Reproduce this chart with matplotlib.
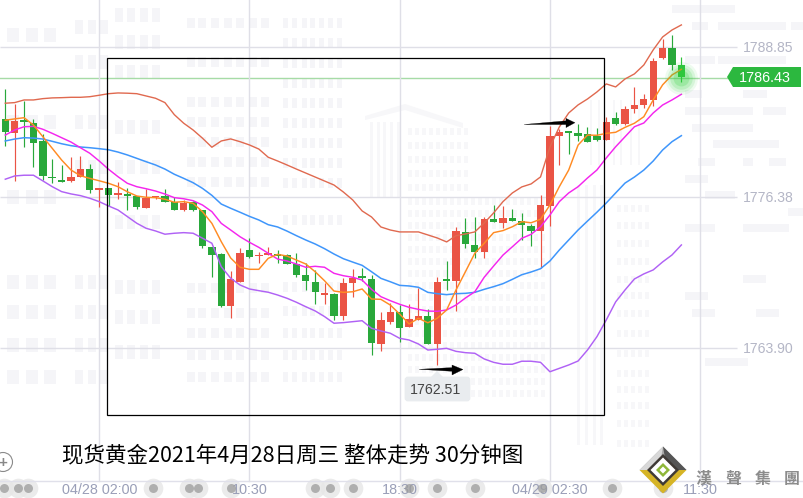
import matplotlib
matplotlib.use("Agg")
import matplotlib.pyplot as plt
from matplotlib.patches import Rectangle, Polygon, Circle, FancyBboxPatch

W, H = 804, 498
FONT = ['Liberation Sans', 'DejaVu Sans']
CJK = ['Noto Sans CJK SC', 'DejaVu Sans']

opens = [1782.88,1781.75,1782.80,1782.55,1781.08,1778.05,1777.82,1777.74,1778.07,1778.73,
         1777.03,1777.16,1776.58,1776.67,1776.50,1775.51,1776.38,1776.50,1776.01,1775.34,
         1776.01,1775.34,1772.29,1771.69,1767.38,1769.37,1772.02,1771.49,1771.61,1771.61,
         1771.61,1770.86,1769.95,1769.37,1768.33,1768.38,1766.55,1769.29,1769.79,1769.62,
         1764.23,1766.06,1766.89,1765.64,1766.22,1766.55,1764.23,1769.54,1769.45,1773.51,
         1772.44,1771.85,1774.59,1774.26,1774.67,1774.42,1774.01,1773.60,1775.67,1781.47,
         1781.83,1781.72,1781.64,1781.47,1781.14,1782.97,1782.47,1783.71,1784.05,1784.46,
         1787.94,1788.77,1787.36]
closes = [1781.83,1782.72,1782.66,1780.92,1778.18,1777.98,1777.68,1778.07,1778.73,1776.99,
          1777.10,1776.58,1776.75,1776.53,1775.59,1776.34,1776.45,1776.01,1775.34,1775.92,
          1775.34,1772.35,1771.61,1767.38,1769.62,1771.77,1771.44,1771.55,1771.77,1771.55,
          1770.86,1769.95,1769.45,1768.54,1768.40,1766.55,1769.29,1769.70,1769.73,1764.31,
          1766.22,1766.89,1765.56,1766.30,1766.55,1764.23,1769.37,1769.48,1773.60,1772.52,
          1771.85,1774.59,1774.34,1774.67,1774.42,1774.09,1773.60,1775.76,1781.47,1781.80,
          1781.76,1781.47,1780.97,1781.14,1782.63,1782.47,1783.71,1784.05,1784.54,1787.69,
          1788.77,1787.36,1786.36]
highs = [1785.37,1784.13,1784.40,1782.88,1781.64,1779.56,1779.07,1779.70,1779.81,1779.15,
         1777.10,1777.16,1777.66,1777.16,1776.50,1777.08,1776.50,1777.08,1776.39,1776.17,
         1776.09,1775.34,1772.29,1771.77,1770.28,1772.19,1773.01,1771.85,1772.27,1772.02,
         1771.69,1771.77,1770.94,1770.37,1769.29,1768.46,1769.70,1770.45,1770.53,1769.95,
         1766.89,1767.63,1767.47,1767.55,1768.87,1767.13,1769.78,1771.11,1773.93,1774.67,
         1774.75,1774.75,1775.76,1775.67,1775.42,1775.09,1774.18,1776.58,1782.30,1782.05,
         1781.83,1782.47,1782.22,1782.13,1783.05,1783.47,1783.96,1785.54,1784.96,1787.94,
         1789.51,1789.84,1788.02]
lows = [1780.67,1777.76,1780.58,1778.93,1777.82,1777.54,1777.68,1777.68,1778.05,1776.77,
        1775.61,1775.67,1776.25,1775.34,1775.42,1775.51,1776.28,1776.01,1775.34,1775.26,
        1775.26,1772.21,1769.81,1767.30,1766.42,1769.37,1771.36,1770.94,1771.61,1770.94,
        1770.86,1769.78,1768.71,1767.55,1767.55,1766.22,1766.22,1768.13,1769.45,1763.32,
        1763.65,1765.89,1764.39,1765.64,1766.22,1764.23,1762.51,1768.71,1766.96,1772.19,
        1771.36,1771.36,1774.34,1773.84,1774.42,1772.85,1772.35,1770.53,1774.01,1779.07,
        1779.98,1781.06,1780.97,1781.06,1781.14,1782.38,1782.38,1783.38,1783.80,1783.96,
        1787.86,1786.94,1785.95]

boll_upper = [1784.19,1784.24,1784.46,1784.46,1784.57,1784.63,1784.65,1784.68,1784.68,1784.73,
              1784.85,1784.98,1785.04,1785.02,1784.98,1784.79,1784.60,1784.24,1783.24,1782.53,
              1781.97,1781.29,1780.54,1781.06,1781.23,1781.00,1780.73,1780.39,1779.71,1779.40,
              1779.07,1778.73,1778.40,1778.07,1777.74,1777.41,1776.83,1776.17,1775.26,1774.76,
              1773.93,1773.68,1773.52,1773.52,1773.52,1773.27,1773.02,1772.69,1773.21,1773.35,
              1773.52,1774.26,1775.09,1776.03,1776.75,1777.25,1777.50,1778.08,1780.56,1782.22,
              1783.38,1784.05,1784.54,1785.12,1785.79,1785.54,1786.20,1786.62,1787.36,1788.61,
              1789.68,1790.26,1790.68]
ma_blue = [1781.06,1781.22,1781.33,1781.30,1781.22,1781.03,1780.83,1780.67,1780.56,1780.50,
           1780.42,1780.33,1780.14,1779.90,1779.62,1779.34,1779.07,1778.73,1778.30,1777.96,
           1777.60,1777.13,1776.55,1775.83,1775.48,1775.15,1774.81,1774.51,1774.12,1773.93,
           1773.59,1773.21,1772.85,1772.52,1772.13,1771.69,1771.30,1771.02,1770.75,1770.22,
           1769.67,1769.39,1769.09,1769.04,1768.93,1768.51,1768.40,1768.32,1768.40,1768.43,
           1768.51,1768.76,1768.98,1769.23,1769.59,1769.97,1770.20,1770.47,1771.11,1772.02,
           1772.85,1773.68,1774.42,1775.15,1775.92,1776.75,1777.57,1778.07,1778.65,1779.40,
           1780.31,1781.00,1781.50]
ma_magenta = [1781.55,1781.97,1782.24,1782.27,1782.03,1781.69,1781.33,1780.97,1780.50,1780.04,
              1779.40,1778.71,1778.10,1777.55,1777.27,1777.10,1776.91,1776.66,1776.36,1776.27,
              1776.11,1775.75,1775.20,1774.23,1773.68,1773.12,1772.66,1772.24,1771.75,1771.27,
              1771.11,1770.86,1770.59,1770.67,1770.59,1770.09,1769.89,1769.76,1769.53,1768.76,
              1768.15,1767.82,1767.52,1767.27,1767.10,1766.96,1766.94,1767.05,1767.46,1768.04,
              1768.56,1769.76,1770.69,1771.60,1772.29,1772.99,1773.32,1773.95,1774.92,1776.03,
              1776.75,1777.27,1777.99,1778.65,1779.65,1780.58,1781.41,1782.24,1782.55,1783.38,
              1784.04,1784.46,1784.93]
ma_orange = [1782.78,1782.89,1782.99,1782.38,1781.41,1780.45,1779.48,1778.65,1778.18,1777.96,
             1777.76,1777.55,1777.27,1776.85,1776.50,1776.39,1776.36,1776.23,1775.98,1776.03,
             1775.89,1775.20,1774.23,1772.71,1771.36,1770.59,1770.42,1770.42,1771.33,1771.66,
             1771.52,1771.19,1770.86,1770.22,1769.47,1768.62,1768.51,1768.56,1768.79,1767.96,
             1767.93,1767.46,1766.71,1765.89,1766.36,1765.99,1766.36,1767.05,1768.71,1770.22,
             1771.75,1772.58,1773.46,1773.63,1773.95,1774.37,1774.28,1774.57,1775.75,1777.27,
             1778.65,1780.72,1781.55,1781.53,1781.69,1781.78,1782.19,1782.53,1783.07,1784.46,
             1785.71,1786.53,1787.00]
boll_lower = [1777.89,1778.16,1778.22,1778.22,1777.75,1777.27,1776.86,1776.67,1776.53,1776.31,
              1776.03,1775.67,1775.34,1774.79,1774.24,1773.82,1773.60,1773.33,1773.41,1773.46,
              1773.41,1773.00,1772.58,1770.64,1769.68,1769.12,1768.79,1768.65,1768.52,1768.29,
              1768.02,1767.69,1767.32,1766.97,1766.50,1765.95,1766.00,1766.08,1766.16,1765.53,
              1765.31,1765.12,1764.70,1764.56,1764.23,1763.73,1763.79,1763.87,1763.62,1763.51,
              1763.46,1762.99,1762.71,1762.55,1762.55,1762.80,1762.80,1762.71,1761.93,1762.21,
              1762.49,1762.82,1763.73,1764.83,1766.22,1767.72,1768.71,1769.62,1770.04,1770.37,
              1771.03,1771.61,1772.44]

y_tick_values = [1788.85, 1776.38, 1763.90]
y_tick_labels = ['1788.85', '1776.38', '1763.90']
x_tick_index = [10, 26, 42, 58, 74]
x_tick_labels = ['04/28 02:00', '10:30', '18:30', '04/29 02:30', '11:30']
last_price = '1786.43'
low_label = '1762.51'
title = '现货黄金2021年4月28日周三 整体走势 30分钟图'
event_dots_px = [4, 18, 28, 153, 189, 198, 231, 315, 330, 353, 409, 437, 475, 542, 612, 663]

UP, DOWN = '#ea5445', '#29a83b'
X0, DX = 5.3, 9.39
PY, PV, PK = 47.0, 1788.85, 0.0829

fig = plt.figure(figsize=(W/100, H/100), dpi=100, facecolor='white')

def make_ax(z):
    a = fig.add_axes([0, 0, 1, 1], zorder=z)
    a.axis('off')
    a.patch.set_alpha(0)
    return a

bg = make_ax(0)
bg.set_xlim(0, W); bg.set_ylim(H, 0)
ax = make_ax(1)
ax.set_xlim(-X0/DX, (W-X0)/DX)
ax.set_ylim(PV-(H-PY)*PK, PV+PY*PK)
top = make_ax(2)
top.set_xlim(0, W); top.set_ylim(H, 0)

# ---- faint watermark -------------------------------------------------
WM = '#f5f5f8'
FAINT = '#f7f7f9'
def blocks(xs, ys, w, h, color=WM):
    for y in ys:
        for x in xs:
            bg.add_patch(Rectangle((x, y), w, h, fc=color, ec='none'))

blocks([7, 26, 44], [28, 115, 190, 275, 305, 338, 370], 12, 14)
blocks([75, 88, 100], [20, 55, 115, 160, 275, 305, 338, 370], 8, 14)
blocks([115, 127, 140, 152], [8, 35, 65, 120, 160, 215, 280, 310, 345], 8, 14)
blocks([187, 198, 211, 224, 236, 249, 261], [18, 57, 97, 117, 137, 157, 177, 283, 308, 328, 350, 372], 8, 10)
blocks([283, 292, 302, 310, 319, 328, 337], [18, 38, 58, 78, 98, 118, 138, 158, 178, 215, 282, 306, 328, 350, 372], 5, 10)
blocks([408 + 7*i for i in range(9)], [128, 142, 156, 170, 184], 4.5, 7, FAINT)
blocks([408 + 7*i for i in range(20)], [198 + 12*i for i in range(17)], 4.5, 7, FAINT)
blocks([617, 624, 631, 638, 645], [205, 222, 240, 258, 276, 292, 310, 330, 350, 370, 386, 402, 420, 440], 4.5, 7, FAINT)
hbars = [(672, 735, 5), (692, 708, 22), (718, 786, 22), (791, 804, 22), (685, 715, 56), (718, 786, 56),
         (685, 702, 90), (743, 767, 90), (685, 753, 107), (763, 786, 107), (692, 753, 124), (713, 779, 140),
         (698, 715, 158), (743, 753, 158), (769, 786, 158), (685, 708, 175), (705, 735, 191), (788, 804, 208),
         (685, 715, 224), (743, 789, 224), (743, 766, 275), (685, 708, 292), (692, 715, 309), (756, 779, 309),
         (705, 748, 358)]
for x0, x1, y in hbars:
    bg.add_patch(Rectangle((x0, y), x1-x0, 8, fc=WM, ec='none'))
for x in [370, 377, 383, 390, 397]:
    bg.add_patch(Rectangle((x, 122), 3, 75, fc=FAINT, ec='none'))
for x in [577, 585, 593, 600]:
    bg.add_patch(Rectangle((x, 185), 3, 260, fc=FAINT, ec='none'))
for x in [590, 598, 613, 620, 630, 638]:
    bg.add_patch(Rectangle((x, 100), 2.5, 65, fc=FAINT, ec='none'))
bg.add_patch(Polygon([(365, 116), (405, 104), (463, 123), (463, 128), (405, 110), (365, 120)], fc=FAINT, ec='none'))

# ---- grid ------------------------------------------------------------
GRID = '#dfdfe7'
for i in x_tick_index[:]:
    ax.plot([i, i], [PV-(481-PY)*PK, PV+PY*PK], color=GRID, lw=1.0, zorder=0.5)
ax.hlines(y_tick_values, -X0/DX, (737-X0)/DX, color=GRID, lw=1.0, zorder=0.5)
bg.plot([0, W], [481, 481], color='#e0e0ea', lw=1.0)
bg.plot([0, 728], [77.5, 77.5], color='#a6dba6', lw=1.0)

# ---- candles ---------------------------------------------------------
for i, (o, c, h, l) in enumerate(zip(opens, closes, highs, lows)):
    col = UP if c >= o else DOWN
    if i == len(opens) - 1:
        col = '#2fc23c'
    ax.plot([i, i], [l, h], color=col, lw=0.85, zorder=2, solid_capstyle='butt')
    b0, b1 = min(o, c), max(o, c)
    if b1 - b0 < 0.1:
        b1 = b0 + 0.1
    ax.bar(i, b1-b0, bottom=b0, width=7.3/DX if b1-b0 > 0.2 else 7.5/DX, color=col, lw=0, zorder=2)

idx = list(range(len(opens)))
ax.plot(idx, boll_upper, color='#e0694f', lw=1.0, zorder=3)
ax.plot(idx, ma_blue, color='#3f96fb', lw=1.1, zorder=3)
ax.plot(idx, ma_magenta, color='#f426ee', lw=1.05, zorder=3)
ax.plot(idx, ma_orange, color='#ff8b23', lw=1.05, zorder=3)
ax.plot(idx, boll_lower, color='#b062f5', lw=1.05, zorder=3)

# glow on last candle
for s, a in [(560, 0.08), (400, 0.12), (260, 0.16), (130, 0.22)]:
    ax.scatter([72], [1786.3], s=s, color='#30d03c', alpha=a, lw=0, zorder=4)

# ---- axis labels -----------------------------------------------------
for v, t in zip(y_tick_values, y_tick_labels):
    top.text(743, PY+(PV-v)/PK+0.8, t, color='#b4b6c6', fontsize=10.1, family=FONT, ha='left', va='center')
for i, t in zip(x_tick_index, x_tick_labels):
    ax.text(i, PV-(490-PY)*PK, t, color='#9a9fb8', fontsize=10.4, family=FONT, ha='center', va='center', zorder=6)

# event dots along the time axis
bg.scatter(event_dots_px, [488]*len(event_dots_px), s=200, color='#e6e6e6', alpha=0.8, lw=0)
top.scatter(event_dots_px, [488]*len(event_dots_px), s=42, color='#9b9b9b', alpha=0.75, lw=0, zorder=1)

# ---- price tag -------------------------------------------------------
top.add_patch(Polygon([(727, 77), (733, 67), (801, 67), (801, 87), (733, 87)], fc='#2cb83f', ec='none'))
top.text(765, 77.5, last_price, color='white', fontsize=10.4, family=FONT, ha='center', va='center')

# ---- low label -------------------------------------------------------
top.add_patch(Polygon([(431, 377), (437, 371), (443, 377)], fc='#e9ecef', ec='none'))
top.add_patch(FancyBboxPatch((406, 378), 63, 22, boxstyle='round,pad=0,rounding_size=2', fc='#e9ecef', ec='#e9ecef', lw=2))
top.text(436, 389.5, low_label, color='#444444', fontsize=10.2, family=FONT, ha='center', va='center')

# ---- annotations -----------------------------------------------------
top.add_patch(Rectangle((107.5, 57.5), 497, 357, fc='none', ec='black', lw=0.9))
top.add_patch(Polygon([(419, 369.3), (452, 367.6), (452, 365), (463, 369.5), (452, 375), (452, 371.3)], fc='black', ec='black', lw=0.2))
top.add_patch(Polygon([(524, 124.5), (566, 120.8), (566, 118.4), (575, 122.7), (566, 127.6), (566, 124.6)], fc='black', ec='black', lw=0.2))
top.text(62, 456, title, color='black', fontsize=15.5, family=CJK, ha='left', va='center')

# zoom control
top.add_patch(Circle((3, 462), 9.5, fc='white', ec='#8a8a8a', lw=0.8))
top.text(2.5, 462.5, '+', color='#888888', fontsize=11, family=FONT, ha='center', va='center', fontweight='bold')

# ---- logo ------------------------------------------------------------
cx, cy = 663, 470
def dia(rx, ry, **kw):
    top.add_patch(Polygon([(cx-rx, cy), (cx, cy-ry), (cx+rx, cy), (cx, cy+ry)], ec='none', **kw))
top.add_patch(Polygon([(cx-23.5, cy), (cx, cy-23.5), (cx+23.5, cy)], fc='#a9a9a9', ec='none'))
top.add_patch(Polygon([(cx-23.5, cy), (cx, cy-23.5), (cx-4, cy)], fc='#d8d8d8', ec='none'))
top.add_patch(Polygon([(cx-23.5, cy), (cx, cy+23.5), (cx+23.5, cy)], fc='#d6b426', ec='none'))
top.add_patch(Polygon([(cx+4, cy), (cx, cy-23.5), (cx+23.5, cy)], fc='#555555', ec='none'))
dia(16, 16, fc='#3f3a36')
dia(12.5, 12.5, fc='white')
dia(7, 7, fc='#8fb73a')
dia(3.5, 3.5, fc='white')
for x, ch in zip([703, 733, 763, 792], '漢聲集團'):
    top.text(x, 479, ch, color='#8c8c8c', fontsize=11.5, family=['Noto Sans CJK TC', 'DejaVu Sans'], ha='center', va='center', fontweight='bold')

fig.savefig('out.png', dpi=100, facecolor='white')
